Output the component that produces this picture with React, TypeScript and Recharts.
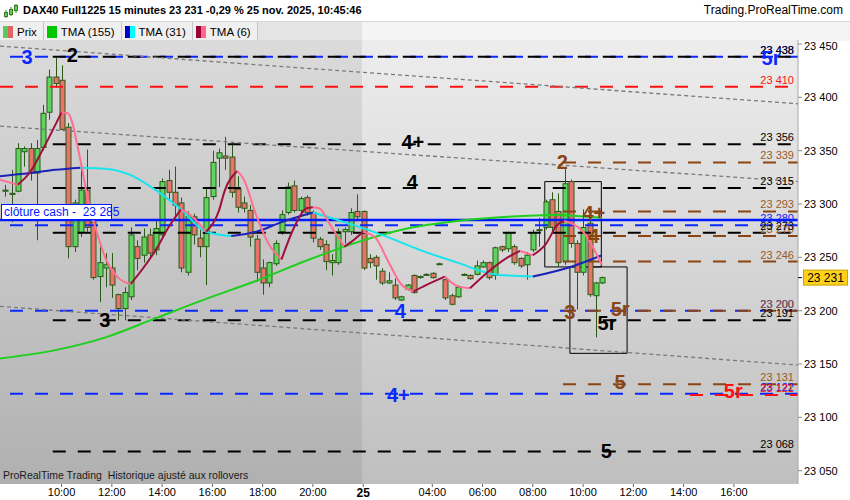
import React from 'react';
import {
  ComposedChart,
  Bar,
  Line,
  XAxis,
  YAxis,
  ReferenceLine,
  ReferenceArea,
  ReferenceDot,
} from 'recharts';

const FONT = '"Liberation Sans", Arial, sans-serif';

// one bar every 15 minutes, index 0 = 24 nov. 07:45, index 57 = 25 nov. 01:15
const opens = [
  23312, 23309, 23312, 23349, 23352, 23329, 23353, 23386, 23419, 23416,
  23372, 23260, 23273, 23313, 23283, 23232, 23240, 23240, 23215, 23202,
  23213, 23260, 23252, 23271, 23257, 23271, 23322, 23311, 23301, 23236,
  23288, 23268, 23260, 23307, 23343, 23345, 23344, 23314, 23301, 23294,
  23267, 23240, 23226, 23244, 23274, 23292, 23317, 23294, 23306, 23292,
  23267, 23262, 23245, 23245, 23274, 23274, 23293, 23293, 23249, 23250,
  23237, 23226, 23224, 23210, 23220, 23233, 23231, 23234, 23235, 23244,
  23229, 23214, 23213, 23234, 23233, 23234, 23241, 23245, 23233, 23260,
  23258, 23260, 23249, 23243, 23257, 23276, 23278, 23304, 23293, 23246,
  23321, 23263, 23236, 23282, 23214, 23226,
];
const highs = [
  23318, 23332, 23357, 23354, 23357, 23360, 23393, 23426, 23437, 23430,
  23376, 23304, 23333, 23351, 23290, 23263, 23254, 23254, 23216, 23222,
  23278, 23266, 23277, 23277, 23285, 23324, 23332, 23335, 23306, 23293,
  23291, 23276, 23314, 23350, 23352, 23363, 23358, 23326, 23307, 23299,
  23271, 23248, 23246, 23266, 23294, 23320, 23322, 23307, 23308, 23294,
  23269, 23266, 23253, 23277, 23278, 23296, 23309, 23294, 23253, 23252,
  23240, 23236, 23230, 23214, 23225, 23234, 23233, 23235, 23236, 23245,
  23230, 23216, 23224, 23235, 23234, 23247, 23247, 23246, 23260, 23261,
  23274, 23262, 23250, 23255, 23276, 23287, 23304, 23311, 23310, 23334,
  23323, 23266, 23295, 23285, 23227, 23232,
];
const lows = [
  23307, 23283, 23311, 23335, 23322, 23266, 23350, 23379, 23409, 23369,
  23249, 23255, 23269, 23274, 23229, 23208, 23222, 23212, 23191, 23191,
  23210, 23238, 23245, 23250, 23252, 23268, 23304, 23288, 23236, 23233,
  23262, 23250, 23224, 23304, 23316, 23332, 23306, 23292, 23292, 23260,
  23227, 23215, 23222, 23242, 23271, 23290, 23292, 23292, 23289, 23264,
  23257, 23238, 23233, 23243, 23263, 23271, 23285, 23238, 23240, 23229,
  23224, 23225, 23210, 23209, 23219, 23216, 23230, 23233, 23230, 23243,
  23210, 23205, 23212, 23233, 23229, 23233, 23240, 23229, 23229, 23255,
  23255, 23243, 23240, 23229, 23255, 23260, 23276, 23274, 23241, 23243,
  23259, 23201, 23233, 23213, 23175, 23225,
];
const closes = [
  23313, 23310, 23352, 23352, 23329, 23352, 23385, 23419, 23413, 23370,
  23260, 23301, 23313, 23278, 23231, 23245, 23243, 23224, 23202, 23217,
  23271, 23249, 23269, 23254, 23277, 23321, 23311, 23299, 23240, 23288,
  23271, 23260, 23306, 23339, 23348, 23343, 23311, 23297, 23296, 23269,
  23236, 23226, 23245, 23263, 23290, 23316, 23294, 23305, 23292, 23268,
  23260, 23246, 23247, 23274, 23276, 23292, 23288, 23240, 23245, 23242,
  23226, 23228, 23212, 23213, 23224, 23217, 23232, 23234, 23231, 23244,
  23212, 23206, 23222, 23234, 23230, 23242, 23245, 23231, 23259, 23257,
  23273, 23245, 23242, 23252, 23273, 23276, 23302, 23278, 23245, 23319,
  23263, 23236, 23278, 23215, 23226, 23231,
];

const xTicks = [9, 17, 25, 33, 41, 49, 57, 68, 76, 84, 92, 100, 108, 116];
const xTickLabels = ['10:00', '12:00', '14:00', '16:00', '18:00', '20:00', '25', '04:00', '06:00', '08:00', '10:00', '12:00', '14:00', '16:00'];
const yTicks = [23050, 23100, 23150, 23200, 23250, 23300, 23350, 23400, 23450];

// moving averages read at some bars
const tma155Bars = [-1, 8, 16, 24, 32, 40, 48, 56, 64, 72, 80, 88, 95];
const tma155Values = [23155, 23163, 23175, 23193, 23211, 23228, 23247, 23264, 23277, 23284, 23288, 23290, 23287];
const tma31Bars = [-1, 4, 8, 12, 16, 20, 24, 28, 32, 36, 40, 44, 49, 54, 60, 66, 72, 78, 84, 90, 95];
const tma31Values = [23326, 23329, 23332, 23334, 23333, 23327, 23313, 23295, 23274, 23270, 23274, 23283, 23292, 23283, 23271, 23257, 23245, 23234, 23232, 23241, 23252];
const tma6Bars = [-1, 2, 4, 6, 9, 10, 12, 13, 15, 16, 18, 20, 22, 24, 26, 28, 29, 32, 34, 35, 37, 38, 40, 42, 44, 46, 48, 49, 50, 52, 54, 55, 57, 59, 61, 63, 65, 67, 70, 72, 74, 77, 80, 82, 84, 86, 88, 89, 92, 95];
const tma6Values = [23323, 23318, 23330, 23351, 23386, 23385, 23341, 23310, 23266, 23249, 23231, 23225, 23240, 23257, 23278, 23295, 23292, 23274, 23293, 23313, 23331, 23323, 23289, 23262, 23248, 23278, 23296, 23297, 23296, 23278, 23260, 23264, 23274, 23268, 23246, 23225, 23218, 23224, 23232, 23223, 23221, 23237, 23250, 23256, 23252, 23262, 23281, 23284, 23274, 23243];

// horizontal levels
const blackLevels = [23438, 23356, 23315, 23273, 23191, 23068];
const brownLevels = [23339, 23293, 23270, 23246, 23200, 23131];
const blueLevels = [23438, 23280, 23200, 23122];
const redLevels = [23410, 23121];
const redStarts = [-0.8, 109];
const closeCash = 23285;
const lastPrice = 23231;

// dotted trend lines: [bar, price] -> [bar, price]
const trendStart = [23448, 23373, 23204];
const trendEnd = [23394, 23321, 23149];

// wave labels
const waveTexts = ['3', '2', '3', '4+', '4', '4', '4+', '2', '4+', '4', '3', '5r', '5r', '5', '5r', '5', '5r'];
const waveBars = [3.5, 10.7, 15.9, 64.9, 64.8, 62.9, 62.6, 88.7, 93.7, 93.7, 89.9, 97.9, 95.8, 97.9, 115.9, 95.7, 121.9];
const wavePrices = [23438, 23440, 23191, 23358, 23321, 23200, 23121, 23340, 23292, 23270, 23199, 23202, 23189, 23133, 23125, 23069, 23437];
const waveKinds = ['blue', 'black', 'black', 'black', 'black', 'blue', 'blue', 'brown', 'brown', 'brown', 'brown', 'brown', 'black', 'brown', 'red', 'black', 'blue'];

// boxes: [bar1, bar2, price1, price2]
const boxBars = [[85.9, 94.9], [89.9, 99]];
const boxPrices = [[23241, 23321], [23160, 23241]];

const X_MIN = -0.8;
const X_MAX = 126.2;
const Y_MIN = 23037.5;
const Y_MAX = 23453.75;
const BLACK_FROM = 7.6;
const BROWN_FROM = 88.8;

const COLORS: Record<string, string> = {
  black: '#000000',
  brown: '#8b4513',
  blue: '#0a28ff',
  red: '#ff1010',
};
const UP = '#5fd45f';
const DOWN = '#e8736b';
const WICK = '#2b5a18';
const DASH = '13 12';

const fmt = (v: number) => String(v).replace(/^(\d{2})(\d{3})$/, '$1 $2');

function splitRuns(xs: number[], vs: number[]) {
  const runs: { up: boolean; pts: { x: number; v: number }[] }[] = [];
  for (let k = 1; k < xs.length; k++) {
    const up = vs[k] >= vs[k - 1];
    const last = runs[runs.length - 1];
    if (last && last.up === up) last.pts.push({ x: xs[k], v: vs[k] });
    else runs.push({ up, pts: [{ x: xs[k - 1], v: vs[k - 1] }, { x: xs[k], v: vs[k] }] });
  }
  return runs;
}

const Candle = (props: any) => {
  const { x, y, width, height, payload } = props;
  if (!payload) return null;
  const top = Math.min(y, y + height);
  const h = Math.abs(height);
  const k = h / (payload.h - payload.l);
  const yo = top + (payload.h - payload.o) * k;
  const yc = top + (payload.h - payload.c) * k;
  const cx = Math.round(x + width / 2) + 0.5;
  const up = payload.c >= payload.o;
  const by = Math.min(yo, yc);
  const bh = Math.max(1, Math.abs(yc - yo));
  return (
    <g>
      <line x1={cx} x2={cx} y1={top} y2={top + h} stroke={WICK} strokeWidth={1} />
      <rect x={cx - 2.5} y={by} width={5} height={bh} fill={up ? UP : DOWN} stroke={WICK} strokeWidth={1} />
    </g>
  );
};

const legendItems = [
  { label: 'Prix', a: '#5fc85f', b: '#e06666' },
  { label: 'TMA (155)', a: '#00c800', b: '#00c800' },
  { label: 'TMA (31)', a: '#0000c8', b: '#00ffff' },
  { label: 'TMA (6)', a: '#990033', b: '#ff6688' },
];

export default function App() {
  const candles = opens.map((o, i) => ({
    x: i,
    o,
    h: highs[i],
    l: lows[i],
    c: closes[i],
    range: [lows[i], highs[i]],
  }));
  const runs155 = splitRuns(tma155Bars, tma155Values);
  const runs31 = splitRuns(tma31Bars, tma31Values);
  const runs6 = splitRuns(tma6Bars, tma6Values);

  const tags = [
    ...blueLevels.map((p) => ({ p, c: COLORS.blue })),
    ...redLevels.map((p) => ({ p, c: COLORS.red })),
    ...brownLevels.map((p) => ({ p, c: '#9a5a28' })),
    ...blackLevels.map((p) => ({ p, c: COLORS.black })),
  ];

  return (
    <div style={{ position: 'absolute', left: 0, top: 0, width: 850, height: 500, background: '#fff', fontFamily: FONT, overflow: 'hidden' }}>
      {/* title */}
      <div style={{ position: 'absolute', left: 0, top: 0, width: 850, height: 20, background: '#fff' }}>
        <svg width={14} height={14} style={{ position: 'absolute', left: 4, top: 4 }}>
          <line x1={2} x2={2} y1={6} y2={14} stroke="#3a7a20" />
          <rect x={0.5} y={8.5} width={3} height={4} fill="#5fd45f" stroke="#3a7a20" />
          <line x1={7} x2={7} y1={3} y2={12} stroke="#3a7a20" />
          <rect x={5.5} y={5.5} width={3} height={5} fill="#5fd45f" stroke="#3a7a20" />
          <line x1={12} x2={12} y1={0} y2={9} stroke="#3a7a20" />
          <rect x={10.5} y={1.5} width={3} height={5} fill="#5fd45f" stroke="#3a7a20" />
        </svg>
        <span style={{ position: 'absolute', left: 23, top: 4, fontSize: 11, fontWeight: 'bold', whiteSpace: 'pre' }}>
          DAX40 Full1225 15 minutes 23 231 -0,29 % 25 nov. 2025, 10:45:46
        </span>
        <span style={{ position: 'absolute', right: 7, top: 3, fontSize: 12 }}>Trading.ProRealTime.com</span>
      </div>
      {/* legend row */}
      <div style={{ position: 'absolute', left: 0, top: 21, width: 850, height: 19, background: '#f4f4f4', borderTop: '1px solid #d8d8d8' }}>
        <div style={{ position: 'absolute', left: 0, top: 0, width: 362, height: 19, background: '#e4e4e4' }} />
        <div style={{ position: 'absolute', left: 0, top: 0, height: 19, display: 'flex' }}>
          {legendItems.map((it) => (
            <div
              key={it.label}
              style={{ display: 'flex', alignItems: 'center', height: 19, padding: '0 6px 0 3px', background: '#efefef', borderRight: '1px solid #c4c4c4', fontSize: 11.5 }}
            >
              <span style={{ display: 'inline-block', width: 5, height: 12, background: it.a }} />
              <span style={{ display: 'inline-block', width: 5, height: 12, background: it.b, marginRight: 4 }} />
              {it.label}
            </div>
          ))}
        </div>
      </div>
      {/* chart */}
      <div style={{ position: 'absolute', left: 0, top: 40 }}>
        <ComposedChart width={850} height={460} data={candles} margin={{ top: 0, right: 0, bottom: 0, left: 0 }}>
          <defs>
            <linearGradient id="bgGrad" x1="0" y1="0" x2="0" y2="1">
              <stop offset="0%" stopColor="#ededed" />
              <stop offset="100%" stopColor="#bfbfbf" />
            </linearGradient>
          </defs>
          <XAxis
            dataKey="x"
            type="number"
            domain={[X_MIN, X_MAX]}
            allowDataOverflow
            ticks={xTicks}
            height={16}
            axisLine={false}
            tickSize={3}
            tickMargin={1}
            tickLine={{ stroke: '#666' }}
            tick={(p: any) => {
              const idx = xTicks.indexOf(p.payload.value);
              const lab = xTickLabels[idx] ?? '';
              return (
                <text x={p.x} y={p.y} dy="0.71em" textAnchor="middle" fontSize={lab === '25' ? 12 : 11} fontWeight={lab === '25' ? 'bold' : 'normal'} fill="#000" fontFamily={FONT}>
                  {lab}
                </text>
              );
            }}
          />
          <YAxis
            orientation="right"
            type="number"
            domain={[Y_MIN, Y_MAX]}
            allowDataOverflow
            ticks={yTicks}
            width={52}
            tickFormatter={fmt}
            tick={{ fontSize: 11, fill: '#000', fontFamily: FONT }}
            tickSize={4}
            tickMargin={2}
            axisLine={{ stroke: '#a8a8a8' }}
            tickLine={{ stroke: '#888' }}
          />

          <ReferenceArea x1={X_MIN} x2={X_MAX} y1={Y_MIN} y2={Y_MAX} fill="url(#bgGrad)" fillOpacity={1} stroke="none" ifOverflow="visible" />
          <ReferenceArea x1={X_MIN} x2={56.8} y1={Y_MIN} y2={Y_MAX} fill="#000" fillOpacity={0.075} stroke="none" ifOverflow="visible" />

          {blueLevels.map((p) => (
            <ReferenceLine key={'bl' + p} y={p} stroke={COLORS.blue} strokeWidth={2} strokeDasharray={DASH} />
          ))}
          {redLevels.map((p, k) => (
            <ReferenceLine key={'rd' + p} segment={[{ x: redStarts[k], y: p }, { x: X_MAX, y: p }]} stroke={COLORS.red} strokeWidth={2} strokeDasharray={DASH} />
          ))}
          {brownLevels.map((p) => (
            <ReferenceLine key={'br' + p} segment={[{ x: BROWN_FROM, y: p }, { x: X_MAX, y: p }]} stroke={COLORS.brown} strokeWidth={2} strokeDasharray={DASH} />
          ))}
          {blackLevels.map((p) => (
            <ReferenceLine key={'bk' + p} segment={[{ x: BLACK_FROM, y: p }, { x: X_MAX, y: p }]} stroke={COLORS.black} strokeWidth={2} strokeDasharray={DASH} />
          ))}
          <ReferenceLine y={closeCash} stroke="#0018ff" strokeWidth={2.5} />
          {trendStart.map((p, k) => (
            <ReferenceLine key={'tr' + k} segment={[{ x: X_MIN, y: p }, { x: X_MAX, y: trendEnd[k] }]} stroke="#7a7a7a" strokeWidth={1.3} strokeDasharray="4 3" />
          ))}

          <Bar dataKey="range" barSize={5} shape={Candle} isAnimationActive={false} />

          {runs155.map((r, k) => (
            <Line key={'g' + k} data={r.pts} dataKey="v" type="monotone" stroke="#1ecf1e" strokeWidth={2} dot={false} isAnimationActive={false} />
          ))}
          {runs31.map((r, k) => (
            <Line key={'b' + k} data={r.pts} dataKey="v" type="monotone" stroke={r.up ? '#1a22b8' : '#16e4ee'} strokeWidth={2} dot={false} isAnimationActive={false} />
          ))}
          {runs6.map((r, k) => (
            <Line key={'r' + k} data={r.pts} dataKey="v" type="monotone" stroke={r.up ? '#9e0f3a' : '#ff6f93'} strokeWidth={2} dot={false} isAnimationActive={false} />
          ))}

          {boxBars.map((b, k) => (
            <ReferenceArea key={'box' + k} x1={b[0]} x2={b[1]} y1={boxPrices[k][0]} y2={boxPrices[k][1]} fill="none" stroke="#000" strokeWidth={1} ifOverflow="visible" />
          ))}

          {tags.map((t, k) => (
            <ReferenceDot
              key={'tag' + k}
              x={X_MAX}
              y={t.p}
              ifOverflow="visible"
              shape={(p: any) => (
                <text x={p.cx - 4} y={p.cy - 3} textAnchor="end" fontSize={11} fill={t.c} fontFamily={FONT}>
                  {fmt(t.p)}
                </text>
              )}
            />
          ))}

          <ReferenceDot
            x={X_MIN}
            y={closeCash}
            ifOverflow="visible"
            shape={(p: any) => (
              <g>
                <rect x={p.cx + 1.5} y={p.cy - 15.5} width={110} height={15} fill="#fff" stroke="#0018ff" strokeWidth={1} />
                <text x={p.cx + 4} y={p.cy - 4} fontSize={12} fill="#0018ff" fontFamily={FONT} style={{ whiteSpace: 'pre' }}>
                  {'clôture cash -  ' + fmt(closeCash)}
                </text>
              </g>
            )}
          />
          <ReferenceDot
            x={X_MAX}
            y={lastPrice}
            ifOverflow="visible"
            shape={(p: any) => (
              <g>
                <line x1={p.cx} x2={p.cx + 4} y1={p.cy} y2={p.cy} stroke="#000" />
                <rect x={p.cx + 5.5} y={p.cy - 7.5} width={44} height={15} fill="#ffd21a" stroke="#c9a400" strokeWidth={1} />
                <text x={p.cx + 27.5} y={p.cy + 4} textAnchor="middle" fontSize={12} fill="#000" fontFamily={FONT}>
                  {fmt(lastPrice)}
                </text>
              </g>
            )}
          />

          {waveTexts.map((t, k) => (
            <ReferenceDot
              key={'w' + k}
              x={waveBars[k]}
              y={wavePrices[k]}
              ifOverflow="visible"
              shape={(p: any) => (
                <text x={p.cx} y={p.cy} dy="0.36em" textAnchor="middle" fontSize={20} fontWeight="bold" fill={COLORS[waveKinds[k]]} fontFamily={FONT}>
                  {t}
                </text>
              )}
            />
          ))}
        </ComposedChart>
      </div>
      <div style={{ position: 'absolute', left: 3, top: 469, fontSize: 10.5, color: '#1a1a1a', whiteSpace: 'pre' }}>
        ProRealTime Trading  Historique ajusté aux rollovers
      </div>
    </div>
  );
}
